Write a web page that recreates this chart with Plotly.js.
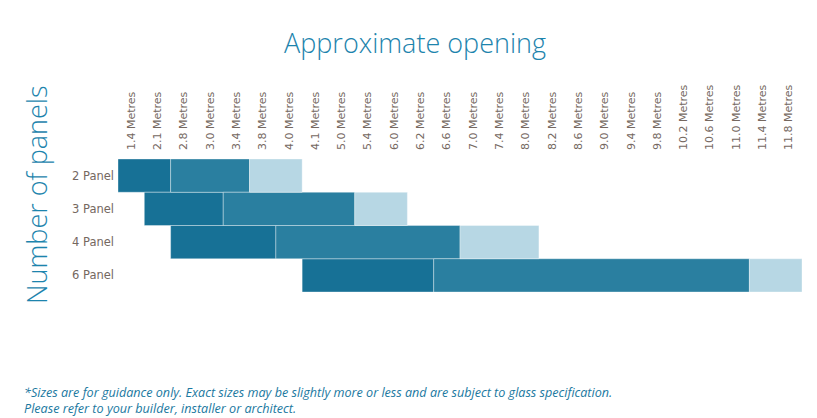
<!DOCTYPE html>
<html>
<head>
<meta charset="utf-8">
<script src="https://cdn.plot.ly/plotly-3.0.1.min.js"></script>
<style>html,body{margin:0;padding:0;background:#fff;}#chart{width:817px;height:418px;}</style>
</head>
<body>
<div id="chart"></div>
<script>
// Opening size tick labels (categorical columns)
const openings = ["1.4 Metres","2.1 Metres","2.8 Metres","3.0 Metres","3.4 Metres","3.8 Metres","4.0 Metres","4.1 Metres","5.0 Metres","5.4 Metres","6.0 Metres","6.2 Metres","6.6 Metres","7.0 Metres","7.4 Metres","8.0 Metres","8.2 Metres","8.6 Metres","9.0 Metres","9.4 Metres","9.8 Metres","10.2 Metres","10.6 Metres","11.0 Metres","11.4 Metres","11.8 Metres"];
const panels = ["2 Panel","3 Panel","4 Panel","6 Panel"];
// Column index where each bar begins, and widths (in columns) of each segment
const startCol = [0, 1, 2, 7];
const darkCols = [2, 3, 4, 5];
const midCols = [3, 5, 7, 12];
const lightCols = [2, 2, 3, 2];

const colors = {dark:"#177196", mid:"#2a7fa0", light:"#b7d7e4"};
const edge = {color:"rgba(255,255,255,0.35)", width:1};

const base1 = startCol.map(s => s - 0.5);
const base2 = base1.map((b,i) => b + darkCols[i]);
const base3 = base2.map((b,i) => b + midCols[i]);

const mk = (vals, bases, col) => ({
  type:"bar", orientation:"h", y:panels, x:vals, base:bases,
  marker:{color:col, line:edge}, hoverinfo:"skip", showlegend:false
});

const data = [
  mk(darkCols, base1, colors.dark),
  mk(midCols, base2, colors.mid),
  mk(lightCols, base3, colors.light)
];

const F = "'Open Sans', 'Noto Sans', sans-serif";
const T = "'DejaVu Sans', sans-serif";
const layout = {
  width:817, height:418,
  margin:{l:118, r:15, t:159, b:126, pad:0},
  paper_bgcolor:"#fff", plot_bgcolor:"#fff",
  barmode:"overlay", bargap:0,
  font:{family:F, color:"#6e625c"},
  title:{text:"Approximate opening", x:0.508, xanchor:"center", y:0.895, yanchor:"middle",
         font:{size:27, color:"#1d84ad", family:F, weight:300}},
  xaxis:{
    range:[-0.5, openings.length - 0.5], side:"top",
    tickmode:"array", tickvals:openings.map((_,i)=>i), ticktext:openings,
    tickangle:-90, tickfont:{size:11, color:"#75685f", family:T}, ticklabelstandoff:8,
    showgrid:false, zeroline:false, showline:false, ticks:"", fixedrange:true
  },
  yaxis:{
    type:"category", categoryarray:panels, autorange:"reversed",
    tickfont:{size:11.5, color:"#75685f", family:T}, ticklabelstandoff:3,
    showgrid:false, zeroline:false, showline:false, ticks:"", fixedrange:true
  },
  annotations:[
    {text:"Number of panels", xref:"paper", yref:"paper", x:-81/684, y:0.73,
     xanchor:"center", yanchor:"middle", textangle:-90, showarrow:false,
     font:{size:27, color:"#1d84ad", family:F, weight:300}},
    {text:"<i>*Sizes are for guidance only. Exact sizes may be slightly more or less and are subject to glass specification.<br>Please refer to your builder, installer or architect.</i>",
     xref:"paper", yref:"paper", x:-96/684, y:-90/133, xanchor:"left", yanchor:"top", align:"left",
     showarrow:false, font:{size:12.6, color:"#1a78a0", family:F}}
  ]
};

Plotly.newPlot("chart", data, layout, {displayModeBar:false, staticPlot:true});
</script>
</body>
</html>
